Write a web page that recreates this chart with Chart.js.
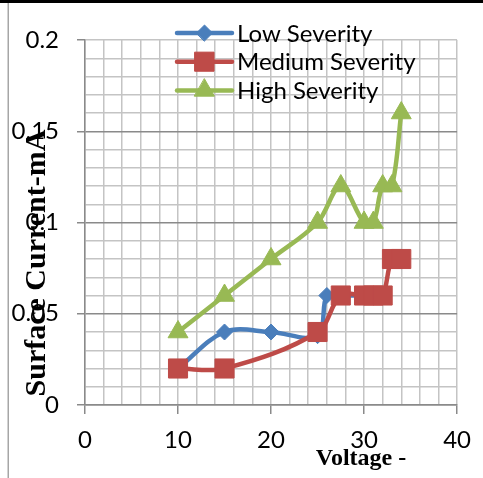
<!DOCTYPE html>
<html><head><meta charset="utf-8">
<script src="https://cdn.jsdelivr.net/npm/chart.js@4.4.1/dist/chart.umd.min.js"></script>
<style>html,body{margin:0;padding:0;background:#fff;overflow:hidden}canvas{display:block}</style>
</head><body>
<canvas id="c" width="483" height="478"></canvas>
<script>
// ---- data ----
const seriesNames = ['Low Severity', 'Medium Severity', 'High Severity'];
const lowX  = [10, 15, 20, 25, 26, 27.5, 30, 31];
const lowY  = [0.02, 0.04, 0.04, 0.038, 0.06, 0.06, 0.06, 0.06];
const medX  = [10, 15, 25, 27.5, 30, 31, 32, 33, 34];
const medY  = [0.02, 0.02, 0.04, 0.06, 0.06, 0.06, 0.06, 0.08, 0.08];
const highX = [10, 15, 20, 25, 27.5, 30, 31, 32, 33, 34];
const highY = [0.04, 0.06, 0.08, 0.1, 0.12, 0.1, 0.1, 0.12, 0.12, 0.16];
const xTickLabels = ['0', '10', '20', '30', '40'];
const yTickLabels = ['0', '0.05', '0.1', '0.15', '0.2'];
const xTitle = 'Voltage -';
const yTitle = 'Surface Current-mA';

// ---- styles ----
const colors = ['#4A7EBB', '#BE4B48', '#98B954'];
const pointStyles = ['rectRot', 'rect', 'triangle'];
const pointRadii = [8, 13.5, 11.5];
const tickFont = { family: 'Lato', size: 24 };
const minorGrid = '#c4c4c4';
const majorGrid = '#8a8a8a';

const toXY = (xs, ys) => xs.map((x, i) => ({ x: x, y: ys[i] }));
const seriesData = [toXY(lowX, lowY), toXY(medX, medY), toXY(highX, highY)];

const datasets = seriesData.map((d, i) => ({
  label: seriesNames[i],
  data: d,
  borderColor: colors[i],
  backgroundColor: colors[i],
  pointBackgroundColor: colors[i],
  pointBorderColor: colors[i],
  pointBorderWidth: 1,
  borderWidth: 4.5,
  pointStyle: pointStyles[i],
  pointRadius: pointRadii[i],
  pointHoverRadius: pointRadii[i],
  tension: 0.35,
  order: 3 - i,
  clip: false
}));

const fmt = v => String(+(+v).toFixed(3));

const decor = {
  id: 'decor',
  beforeDraw(chart) {
    const ctx = chart.ctx;
    ctx.save();
    ctx.fillStyle = '#000';
    ctx.fillRect(0, 0, chart.width, 3);
    ctx.fillStyle = '#a6a6a6';
    ctx.fillRect(7.5, 3, 1.5, chart.height);
    ctx.restore();
  },
  afterDraw(chart) {
    const ctx = chart.ctx;
    const a = chart.chartArea;
    ctx.save();
    // axis titles
    ctx.fillStyle = '#000';
    ctx.textAlign = 'center';
    ctx.textBaseline = 'middle';
    ctx.font = 'bold 24px "Liberation Serif"';
    ctx.fillText(xTitle, a.left + 276, a.bottom + 54);
    ctx.save();
    ctx.translate(a.left - 48, a.top + 223);
    ctx.rotate(-Math.PI / 2);
    ctx.font = 'bold 30px "Liberation Serif"';
    ctx.fillText(yTitle, 0, 0);
    ctx.restore();
    // legend
    const lx0 = a.left + 92, lx1 = a.left + 147, tx = a.left + 152;
    chart.data.datasets.forEach((ds, i) => {
      const y = a.top - 7 + i * 28.7;
      ctx.strokeStyle = ds.borderColor;
      ctx.lineWidth = ds.borderWidth;
      ctx.lineCap = 'round';
      ctx.beginPath();
      ctx.moveTo(lx0, y);
      ctx.lineTo(lx1, y);
      ctx.stroke();
      ctx.fillStyle = ds.backgroundColor;
      ctx.lineWidth = 1;
      Chart.helpers.drawPoint(ctx, { pointStyle: ds.pointStyle, radius: ds.pointRadius, rotation: 0, borderWidth: 1 }, (lx0 + lx1) / 2, y);
      ctx.fillStyle = '#000';
      ctx.textAlign = 'left';
      ctx.textBaseline = 'middle';
      ctx.font = '24px Lato';
      ctx.fillText(ds.label, tx, y + 1);
    });
    ctx.restore();
  }
};

new Chart(document.getElementById('c'), {
  type: 'line',
  data: { datasets: datasets },
  options: {
    responsive: false,
    animation: false,
    events: [],
    layout: { padding: { top: 40, right: 24, left: 0, bottom: 0 } },
    plugins: { legend: { display: false }, tooltip: { enabled: false } },
    scales: {
      x: {
        type: 'linear',
        min: 0, max: 40,
        afterFit: s => { s.height = 73; },
        ticks: {
          stepSize: 2, autoSkip: false, maxRotation: 0, padding: 12,
          font: tickFont, color: '#000',
          callback: v => { const s = fmt(v); return xTickLabels.includes(s) ? s : ''; }
        },
        grid: {
          color: minorGrid,
          lineWidth: 1.5,
          tickLength: 9,
          tickColor: c => (xTickLabels.includes(fmt(c.tick.value)) ? majorGrid : 'transparent')
        },
        border: { color: majorGrid, width: 1.5 }
      },
      y: {
        type: 'linear',
        min: 0, max: 0.2,
        afterFit: s => { s.width = 85; },
        ticks: {
          stepSize: 0.01, autoSkip: false, padding: 18,
          font: tickFont, color: '#000',
          callback: v => { const s = fmt(v); return yTickLabels.includes(s) ? s : ''; }
        },
        grid: {
          color: c => { const s = fmt(c.tick.value); return (yTickLabels.includes(s) && s !== '0.2') ? majorGrid : minorGrid; },
          lineWidth: 1.5,
          tickLength: 8,
          tickColor: c => (yTickLabels.includes(fmt(c.tick.value)) ? majorGrid : 'transparent')
        },
        border: { color: majorGrid, width: 1.5 }
      }
    }
  },
  plugins: [decor]
});
</script>
</body></html>
